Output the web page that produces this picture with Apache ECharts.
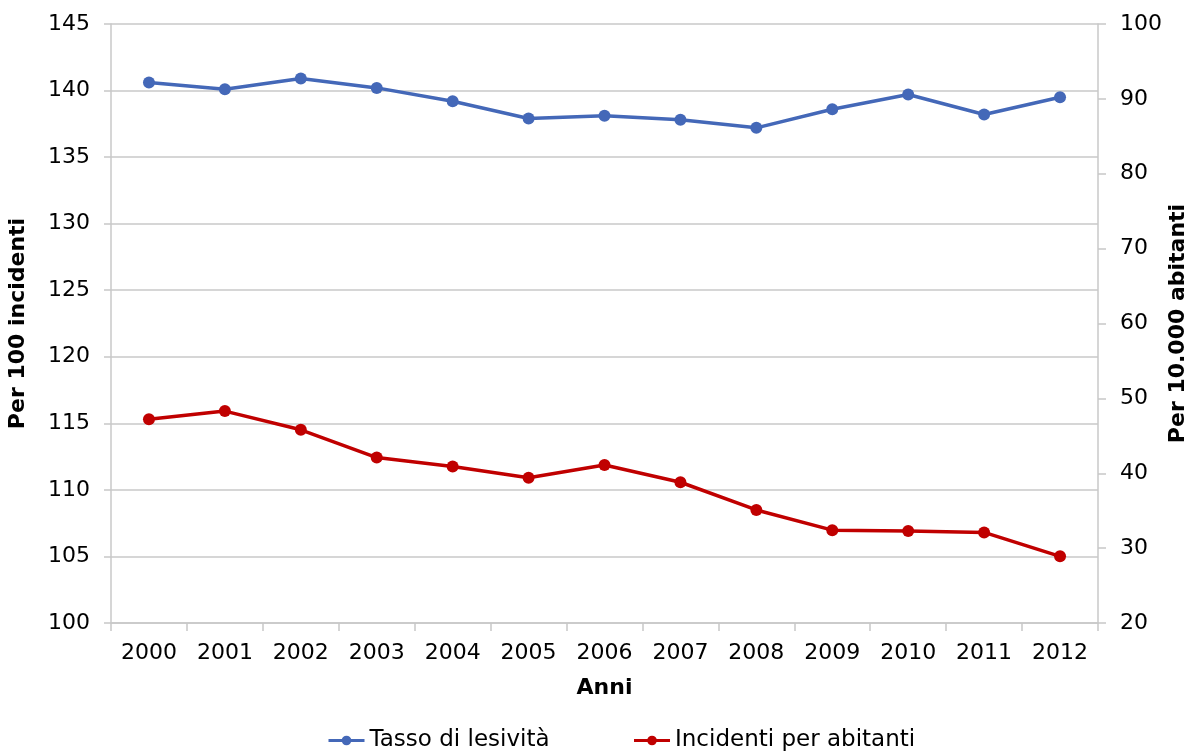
<!DOCTYPE html>
<html><head><meta charset="utf-8">
<script src="https://cdn.jsdelivr.net/npm/echarts@6/dist/echarts.min.js"></script>
<style>html,body{margin:0;padding:0;background:#fff}#c{width:1192px;height:751px}</style>
</head><body><div id="c"></div>
<script>
const years = ['2000','2001','2002','2003','2004','2005','2006','2007','2008','2009','2010','2011','2012'];
const tassoLesivita = [140.6, 140.1, 140.9, 140.2, 139.2, 137.9, 138.1, 137.8, 137.2, 138.6, 139.7, 138.2, 139.5];
const incidentiAbitanti = [47.2, 48.3, 45.8, 42.1, 40.9, 39.4, 41.1, 38.8, 35.1, 32.4, 32.3, 32.1, 28.9];
const seriesNames = ['Tasso di lesività', 'Incidenti per abitanti'];
const font = 'DejaVu Sans, Verdana, sans-serif';
const chart = echarts.init(document.getElementById('c'));
chart.setOption({
  backgroundColor: '#fff',
  animation: false,
  grid: {left: 111, right: 94, top: 24, bottom: 128, containLabel: false, outerBoundsMode: 'none'},
  legend: {
    top: 724, left: 322, itemGap: 83, itemWidth: 36, itemHeight: 12,
    lineStyle: {width: 3},
    textStyle: {fontFamily: font, fontSize: 23, color: '#000'},
    data: seriesNames
  },
  xAxis: {
    type: 'category', data: years, boundaryGap: true,
    name: 'Anni', nameLocation: 'middle', nameGap: 54, nameMoveOverlap: false,
    nameTextStyle: {fontFamily: font, fontSize: 22, fontWeight: 'bold', color: '#000'},
    axisLine: {lineStyle: {color: '#c8c8c8', width: 1.5}},
    axisTick: {show: true, alignWithLabel: false, length: 8, lineStyle: {color: '#c8c8c8', width: 1.5}},
    axisLabel: {fontFamily: font, fontSize: 22, color: '#000', margin: 19}
  },
  yAxis: [{
    type: 'value', min: 100, max: 145, interval: 5, position: 'left',
    name: 'Per 100 incidenti', nameLocation: 'middle', nameGap: 82, nameRotate: 90, nameMoveOverlap: false,
    nameTextStyle: {fontFamily: font, fontSize: 22, fontWeight: 'bold', color: '#000'},
    axisLine: {show: true, lineStyle: {color: '#c8c8c8', width: 1.5}},
    axisTick: {show: true, length: 7, lineStyle: {color: '#c8c8c8', width: 1.5}},
    axisLabel: {fontFamily: font, fontSize: 22, color: '#000', margin: 21},
    splitLine: {show: true, lineStyle: {color: '#c8c8c8', width: 1.5}}
  }, {
    type: 'value', min: 20, max: 100, interval: 10, position: 'right',
    name: 'Per 10.000 abitanti', nameLocation: 'middle', nameGap: 69, nameRotate: 90, nameMoveOverlap: false,
    nameTextStyle: {fontFamily: font, fontSize: 22, fontWeight: 'bold', color: '#000'},
    axisLine: {show: true, lineStyle: {color: '#c8c8c8', width: 1.5}},
    axisTick: {show: true, length: 8, lineStyle: {color: '#c8c8c8', width: 1.5}},
    axisLabel: {fontFamily: font, fontSize: 22, color: '#000', margin: 22},
    splitLine: {show: false}
  }],
  series: [{
    name: seriesNames[0], type: 'line', yAxisIndex: 0, data: tassoLesivita,
    symbol: 'circle', symbolSize: 12,
    lineStyle: {color: '#4468B8', width: 3.5}, itemStyle: {color: '#4468B8'}
  }, {
    name: seriesNames[1], type: 'line', yAxisIndex: 1, data: incidentiAbitanti,
    symbol: 'circle', symbolSize: 12,
    lineStyle: {color: '#C00000', width: 3.5}, itemStyle: {color: '#C00000'}
  }]
});
</script></body></html>
